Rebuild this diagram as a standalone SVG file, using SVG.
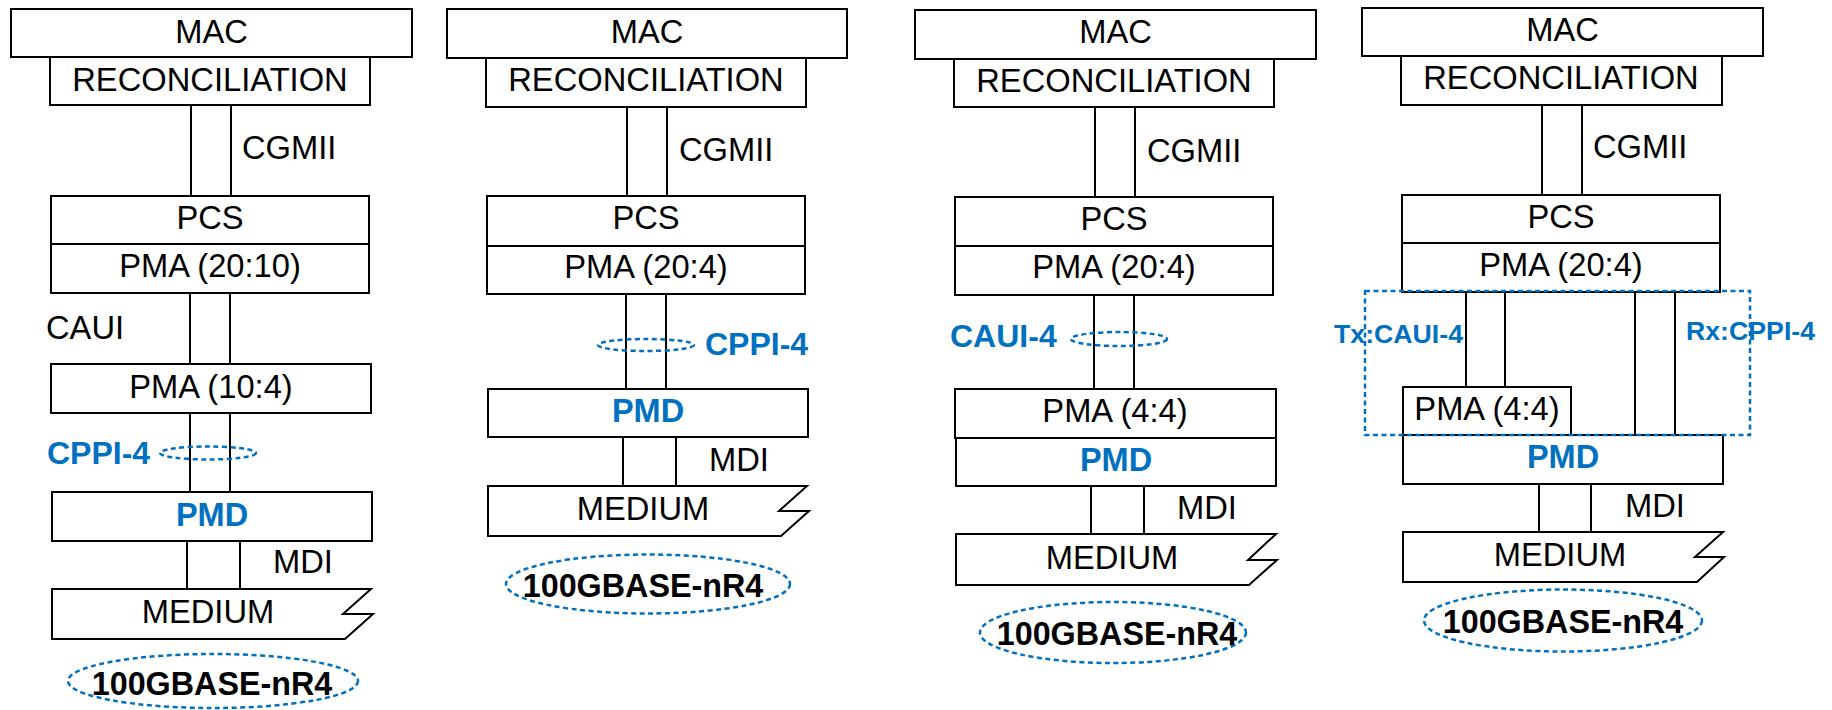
<svg xmlns="http://www.w3.org/2000/svg" width="1832" height="710" viewBox="0 0 1832 710">
<style>
.box{fill:#fff;stroke:#000;stroke-width:2}
.ln{stroke:#000;stroke-width:2;fill:none}
.t{font-family:"Liberation Sans",Arial,sans-serif;font-size:32.7px;fill:#000;text-anchor:middle}
.tl{font-family:"Liberation Sans",Arial,sans-serif;font-size:32.7px;fill:#000}
.b{font-family:"Liberation Sans",Arial,sans-serif;font-size:32.5px;font-weight:bold;fill:#0070C0;text-anchor:middle}
.bl{font-family:"Liberation Sans",Arial,sans-serif;font-size:32px;font-weight:bold;fill:#0070C0}
.bs{font-family:"Liberation Sans",Arial,sans-serif;font-size:26.7px;font-weight:bold;fill:#0070C0}
.nm{font-family:"Liberation Sans",Arial,sans-serif;font-size:32.3px;font-weight:bold;fill:#000;text-anchor:middle}
.dash{fill:none;stroke:#0070C0;stroke-width:2.5;stroke-dasharray:5 3.5}
</style>
<rect width="1832" height="710" fill="#fff"/>

<!-- Connectors -->
<g id="connectors">
  <!-- col1 -->
  <line class="ln" x1="191" y1="105" x2="191" y2="196"/>
  <line class="ln" x1="231" y1="105" x2="231" y2="196"/>
  <line class="ln" x1="190" y1="293" x2="190" y2="364"/>
  <line class="ln" x1="230" y1="293" x2="230" y2="364"/>
  <line class="ln" x1="190" y1="413" x2="190" y2="492"/>
  <line class="ln" x1="230" y1="413" x2="230" y2="492"/>
  <line class="ln" x1="187" y1="541" x2="187" y2="589"/>
  <line class="ln" x1="240" y1="541" x2="240" y2="589"/>
  <!-- col2 -->
  <line class="ln" x1="627" y1="107" x2="627" y2="196"/>
  <line class="ln" x1="667" y1="107" x2="667" y2="196"/>
  <line class="ln" x1="626" y1="294" x2="626" y2="389"/>
  <line class="ln" x1="666" y1="294" x2="666" y2="389"/>
  <line class="ln" x1="623" y1="437" x2="623" y2="486"/>
  <line class="ln" x1="676" y1="437" x2="676" y2="486"/>
  <!-- col3 -->
  <line class="ln" x1="1095" y1="107" x2="1095" y2="197"/>
  <line class="ln" x1="1135" y1="107" x2="1135" y2="197"/>
  <line class="ln" x1="1094" y1="295" x2="1094" y2="389"/>
  <line class="ln" x1="1134" y1="295" x2="1134" y2="389"/>
  <line class="ln" x1="1091" y1="486" x2="1091" y2="534"/>
  <line class="ln" x1="1144" y1="486" x2="1144" y2="534"/>
  <!-- col4 -->
  <line class="ln" x1="1542" y1="105" x2="1542" y2="195"/>
  <line class="ln" x1="1582" y1="105" x2="1582" y2="195"/>
  <line class="ln" x1="1466" y1="292" x2="1466" y2="387"/>
  <line class="ln" x1="1505" y1="292" x2="1505" y2="387"/>
  <line class="ln" x1="1635" y1="292" x2="1635" y2="435"/>
  <line class="ln" x1="1675" y1="292" x2="1675" y2="435"/>
  <line class="ln" x1="1539" y1="484" x2="1539" y2="532"/>
  <line class="ln" x1="1591" y1="484" x2="1591" y2="532"/>
</g>

<!-- Column 1 -->
<g id="col1">
  <g id="c1-mac"><rect class="box" x="11" y="9" width="401" height="48"/><text class="t" x="211.5" y="43">MAC</text></g>
  <g id="c1-rs"><rect class="box" x="50" y="57" width="320" height="48"/><text class="t" x="210" y="91">RECONCILIATION</text></g>
  <g id="c1-cgmii"><text class="tl" x="242" y="159">CGMII</text></g>
  <g id="c1-pcs"><rect class="box" x="51" y="196" width="318" height="48"/><text class="t" x="210" y="229">PCS</text></g>
  <g id="c1-pma1"><rect class="box" x="51" y="244" width="318" height="49"/><text class="t" x="210" y="277">PMA (20:10)</text></g>
  <g id="c1-caui"><text class="tl" x="46" y="339">CAUI</text></g>
  <g id="c1-pma2"><rect class="box" x="51" y="364" width="320" height="49"/><text class="t" x="211" y="398">PMA (10:4)</text></g>
  <g id="c1-cppi"><text class="bl" x="47" y="464">CPPI-4</text><ellipse class="dash" cx="208" cy="453" rx="48" ry="6.5"/></g>
  <g id="c1-pmd"><rect class="box" x="52" y="492" width="320" height="49"/><text class="b" x="212" y="526">PMD</text></g>
  <g id="c1-mdi"><text class="tl" x="273" y="573">MDI</text></g>
  <g id="c1-medium"><path class="box" d="M52,589 L371,589 L343,614 L373,614 L345,639 L52,639 Z"/><text class="t" x="208" y="623">MEDIUM</text></g>
  <g id="c1-name"><ellipse class="dash" cx="213" cy="681" rx="145" ry="27"/><text class="nm" x="212" y="695">100GBASE-nR4</text></g>
</g>

<!-- Column 2 -->
<g id="col2">
  <g id="c2-mac"><rect class="box" x="447" y="9" width="400" height="49"/><text class="t" x="647" y="43">MAC</text></g>
  <g id="c2-rs"><rect class="box" x="486" y="58" width="320" height="49"/><text class="t" x="646" y="91">RECONCILIATION</text></g>
  <g id="c2-cgmii"><text class="tl" x="679" y="161">CGMII</text></g>
  <g id="c2-pcs"><rect class="box" x="487" y="196" width="318" height="50"/><text class="t" x="646" y="229">PCS</text></g>
  <g id="c2-pma"><rect class="box" x="487" y="246" width="318" height="48"/><text class="t" x="646" y="278">PMA (20:4)</text></g>
  <g id="c2-cppi"><ellipse class="dash" cx="646" cy="345" rx="48" ry="6"/><text class="bl" x="705" y="355">CPPI-4</text></g>
  <g id="c2-pmd"><rect class="box" x="488" y="389" width="320" height="48"/><text class="b" x="648" y="422">PMD</text></g>
  <g id="c2-mdi"><text class="tl" x="709" y="471">MDI</text></g>
  <g id="c2-medium"><path class="box" d="M488,486 L807,486 L779,511 L809,511 L781,536 L488,536 Z"/><text class="t" x="643" y="520">MEDIUM</text></g>
  <g id="c2-name"><ellipse class="dash" cx="648" cy="584" rx="142" ry="29.5"/><text class="nm" x="643" y="597">100GBASE-nR4</text></g>
</g>

<!-- Column 3 -->
<g id="col3">
  <g id="c3-mac"><rect class="box" x="915" y="10" width="401" height="49"/><text class="t" x="1115.5" y="43">MAC</text></g>
  <g id="c3-rs"><rect class="box" x="954" y="59" width="320" height="48"/><text class="t" x="1114" y="92">RECONCILIATION</text></g>
  <g id="c3-cgmii"><text class="tl" x="1147" y="162">CGMII</text></g>
  <g id="c3-pcs"><rect class="box" x="955" y="197" width="318" height="49"/><text class="t" x="1114" y="230">PCS</text></g>
  <g id="c3-pma"><rect class="box" x="955" y="246" width="318" height="49"/><text class="t" x="1114" y="278">PMA (20:4)</text></g>
  <g id="c3-caui"><text class="bl" x="950" y="347">CAUI-4</text><ellipse class="dash" cx="1119" cy="339" rx="48" ry="7"/></g>
  <g id="c3-pma44"><rect class="box" x="955" y="389" width="321" height="49"/><text class="t" x="1115" y="422">PMA (4:4)</text></g>
  <g id="c3-pmd"><rect class="box" x="956" y="438" width="320" height="48"/><text class="b" x="1116" y="471">PMD</text></g>
  <g id="c3-mdi"><text class="tl" x="1177" y="519">MDI</text></g>
  <g id="c3-medium"><path class="box" d="M956,534 L1276,534 L1248,560 L1277,560 L1249,585 L956,585 Z"/><text class="t" x="1112" y="569">MEDIUM</text></g>
  <g id="c3-name"><ellipse class="dash" cx="1113" cy="632.5" rx="133" ry="30.5"/><text class="nm" x="1117" y="645">100GBASE-nR4</text></g>
</g>

<!-- Column 4 -->
<g id="col4">
  <g id="c4-mac"><rect class="box" x="1362" y="8" width="401" height="48"/><text class="t" x="1562.5" y="41">MAC</text></g>
  <g id="c4-rs"><rect class="box" x="1401" y="56" width="321" height="49"/><text class="t" x="1561" y="89">RECONCILIATION</text></g>
  <g id="c4-cgmii"><text class="tl" x="1593" y="158">CGMII</text></g>
  <g id="c4-pcs"><rect class="box" x="1402" y="195" width="318" height="48"/><text class="t" x="1561" y="228">PCS</text></g>
  <g id="c4-pma"><rect class="box" x="1402" y="243" width="318" height="49"/><text class="t" x="1561" y="276">PMA (20:4)</text></g>
  <g id="c4-pma44"><rect class="box" x="1403" y="387" width="168" height="48"/><text class="t" x="1487" y="420">PMA (4:4)</text></g>
  <g id="c4-pmd"><rect class="box" x="1403" y="435" width="320" height="49"/><text class="b" x="1563" y="468">PMD</text></g>
  <g id="c4-mdi"><text class="tl" x="1625" y="517">MDI</text></g>
  <g id="c4-medium"><path class="box" d="M1403,532 L1723,532 L1695,557 L1724,557 L1697,582 L1403,582 Z"/><text class="t" x="1560" y="566">MEDIUM</text></g>
  <g id="c4-region"><rect class="dash" x="1365" y="291" width="385" height="144"/></g>
  <g id="c4-tx"><text class="bs" x="1334" y="343">Tx:CAUI-4</text></g>
  <g id="c4-rx"><text class="bs" x="1686" y="340">Rx:CPPI-4</text></g>
  <g id="c4-name"><ellipse class="dash" cx="1563" cy="620.5" rx="139" ry="31"/><text class="nm" x="1563" y="633">100GBASE-nR4</text></g>
</g>
</svg>
